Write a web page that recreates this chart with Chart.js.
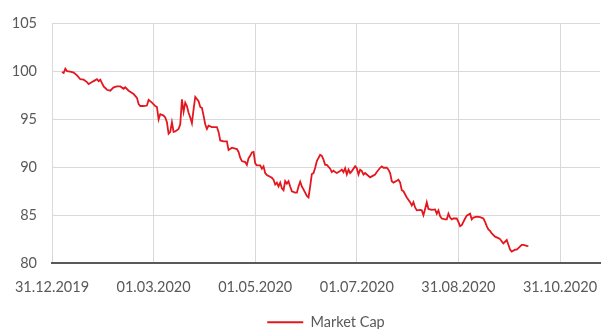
<!DOCTYPE html>
<html>
<head>
<meta charset="utf-8">
<script src="https://cdn.jsdelivr.net/npm/chart.js@4.4.0/dist/chart.umd.min.js"></script>
<style>
  html, body { margin: 0; padding: 0; background: #fff; }
  #wrap { width: 601px; height: 329px; }
</style>
</head>
<body>
<div id="wrap"><canvas id="capChart"></canvas></div>
<script>
// axis start date (first tick) and tick step in days
const startDate = '2019-12-31';
const tickStepDays = 61;
const yTicks = [80, 85, 90, 95, 100, 105];

const dates = [
  '2020-01-06','2020-01-07','2020-01-08','2020-01-09','2020-01-11','2020-01-13','2020-01-15','2020-01-17',
  '2020-01-19','2020-01-21','2020-01-22','2020-01-24','2020-01-25','2020-01-27','2020-01-28','2020-01-29',
  '2020-01-30','2020-01-31','2020-02-02','2020-02-04','2020-02-06','2020-02-08','2020-02-10','2020-02-12',
  '2020-02-13','2020-02-15','2020-02-18','2020-02-20','2020-02-21','2020-02-22','2020-02-24','2020-02-26',
  '2020-02-27','2020-02-29','2020-03-02','2020-03-03','2020-03-04','2020-03-05','2020-03-07','2020-03-08',
  '2020-03-09','2020-03-10','2020-03-11','2020-03-12','2020-03-13','2020-03-14','2020-03-16','2020-03-17',
  '2020-03-18','2020-03-19','2020-03-20','2020-03-21','2020-03-22','2020-03-23','2020-03-24','2020-03-25',
  '2020-03-26','2020-03-28','2020-03-29','2020-03-30','2020-03-31','2020-04-01','2020-04-02','2020-04-03',
  '2020-04-05','2020-04-08','2020-04-09','2020-04-10','2020-04-12','2020-04-14','2020-04-15','2020-04-17',
  '2020-04-19','2020-04-20','2020-04-21','2020-04-22','2020-04-23','2020-04-25','2020-04-26','2020-04-27',
  '2020-04-28','2020-04-29','2020-04-30','2020-05-01','2020-05-02','2020-05-04','2020-05-05','2020-05-06',
  '2020-05-07','2020-05-08','2020-05-11','2020-05-12','2020-05-13','2020-05-14','2020-05-15','2020-05-16',
  '2020-05-17','2020-05-18','2020-05-19','2020-05-20','2020-05-21','2020-05-22','2020-05-23','2020-05-25',
  '2020-05-26','2020-05-27','2020-05-28','2020-05-29','2020-05-31','2020-06-01','2020-06-02','2020-06-03',
  '2020-06-04','2020-06-05','2020-06-06','2020-06-07','2020-06-09','2020-06-10','2020-06-11','2020-06-12',
  '2020-06-13','2020-06-15','2020-06-16','2020-06-17','2020-06-18','2020-06-19','2020-06-21','2020-06-22',
  '2020-06-23','2020-06-24','2020-06-25','2020-06-26','2020-06-27','2020-06-28','2020-06-30','2020-07-01',
  '2020-07-02','2020-07-03','2020-07-04','2020-07-05','2020-07-06','2020-07-07','2020-07-09','2020-07-10',
  '2020-07-12','2020-07-13','2020-07-15','2020-07-16','2020-07-17','2020-07-19','2020-07-20','2020-07-21',
  '2020-07-22','2020-07-23','2020-07-25','2020-07-26','2020-07-27','2020-07-28','2020-07-29','2020-07-31',
  '2020-08-02','2020-08-03','2020-08-04','2020-08-05','2020-08-06','2020-08-08','2020-08-09','2020-08-10',
  '2020-08-11','2020-08-12','2020-08-13','2020-08-15','2020-08-17','2020-08-18','2020-08-19','2020-08-20',
  '2020-08-21','2020-08-23','2020-08-24','2020-08-25','2020-08-26','2020-08-27','2020-08-28','2020-08-30',
  '2020-08-31','2020-09-01','2020-09-02','2020-09-04','2020-09-05','2020-09-07','2020-09-08','2020-09-09',
  '2020-09-11','2020-09-13','2020-09-15','2020-09-16','2020-09-17','2020-09-18','2020-09-19','2020-09-20',
  '2020-09-22','2020-09-24','2020-09-25','2020-09-26','2020-09-27','2020-09-29','2020-09-30','2020-10-01',
  '2020-10-02','2020-10-04','2020-10-05','2020-10-06','2020-10-08','2020-10-09','2020-10-11','2020-10-12'
];

const marketCap = [
  99.95, 99.85, 100.3, 100.05, 100.0, 99.9, 99.6, 99.2,
  99.15, 98.9, 98.7, 98.9, 99.0, 99.2, 99.0, 99.15,
  98.8, 98.45, 98.1, 98.0, 98.35, 98.45, 98.45, 98.2,
  98.35, 98.0, 97.65, 97.25, 96.6, 96.4, 96.4, 96.45,
  97.05, 96.75, 96.4, 96.3, 95.0, 95.55, 95.4, 95.2,
  94.7, 93.5, 93.7, 94.7, 93.7, 93.75, 94.0, 94.5,
  97.1, 95.8, 96.75, 96.4, 95.7, 95.2, 94.6, 96.05,
  97.35, 96.9, 96.3, 96.2, 95.4, 94.5, 94.0, 94.35,
  94.2, 94.2, 93.7, 92.8, 92.7, 92.7, 91.8, 92.05,
  91.95, 91.9, 91.6, 91.0, 90.65, 90.55, 90.25, 90.95,
  91.2, 91.55, 91.6, 90.4, 90.2, 90.2, 89.85, 90.1,
  89.4, 89.2, 88.9, 88.7, 88.2, 88.4, 88.0, 88.4,
  87.8, 87.6, 88.55, 88.3, 88.55, 88.0, 87.5, 87.35,
  87.35, 88.0, 88.5, 88.0, 87.35, 87.0, 86.85, 88.0,
  89.3, 89.4, 89.95, 90.65, 91.3, 91.2, 90.8, 90.25,
  90.25, 89.85, 89.5, 89.65, 89.5, 89.4, 89.6, 89.75,
  89.5, 89.9, 89.25, 89.75, 89.4, 89.6, 90.1, 89.9,
  89.25, 89.75, 89.6, 89.25, 89.4, 89.25, 88.95, 89.05,
  89.25, 89.5, 89.95, 90.1, 89.95, 89.95, 89.75, 89.4,
  88.55, 88.4, 88.6, 88.7, 88.4, 87.6, 87.5, 86.85,
  86.35, 86.0, 86.35, 85.8, 85.5, 85.55, 85.5, 85.0,
  85.65, 86.35, 85.65, 85.55, 85.6, 85.15, 85.5, 84.9,
  84.65, 84.55, 84.55, 85.15, 84.75, 84.55, 84.65, 84.65,
  84.3, 83.85, 83.95, 84.65, 84.95, 85.15, 84.55, 84.75,
  84.85, 84.8, 84.65, 84.3, 83.85, 83.5, 83.35, 83.1,
  82.75, 82.6, 82.5, 82.25, 82.05, 82.4, 81.9, 81.4,
  81.2, 81.4, 81.4, 81.55, 81.9, 81.9, 81.8, 81.75
];

const DAY = 86400000;
function toUtc(s) {
  const p = s.split('-');
  return Date.UTC(+p[0], +p[1] - 1, +p[2]);
}
const base = toUtc(startDate);

// x values are days since the first axis tick
const points = dates.map((d, i) => ({ x: (toUtc(d) - base) / DAY, y: marketCap[i] }));

function fmtDay(v) {
  const dt = new Date(base + v * DAY);
  const dd = String(dt.getUTCDate()).padStart(2, '0');
  const mm = String(dt.getUTCMonth() + 1).padStart(2, '0');
  return dd + '.' + mm + '.' + dt.getUTCFullYear();
}

const labelFont = { family: 'Lato', size: 14.5 };
const textColor = '#595959';
const gridColor = '#d9d9d9';

const ctx = document.getElementById('capChart').getContext('2d');
new Chart(ctx, {
  type: 'line',
  data: {
    datasets: [{
      label: 'Market Cap',
      data: points,
      borderColor: '#e3181f',
      backgroundColor: '#e3181f',
      borderWidth: 1.8,
      pointRadius: 0,
      tension: 0
    }]
  },
  options: {
    responsive: true,
    maintainAspectRatio: false,
    animation: false,
    layout: { padding: { left: 0, right: 1, top: 19, bottom: 0 } },
    plugins: {
      legend: {
        display: true,
        position: 'bottom',
        fullSize: false, // centre the legend under the plot area, not the canvas
        maxHeight: 22,
        labels: {
          usePointStyle: true,
          pointStyle: 'line',
          pointStyleWidth: 36,
          color: textColor,
          font: labelFont,
          padding: 8
        }
      },
      tooltip: { enabled: false }
    },
    scales: {
      x: {
        type: 'linear',
        min: 0,
        max: 329,
        afterFit: s => { s.height = 44; s.paddingLeft = 0; s.paddingRight = 0; },
        grid: { color: gridColor, lineWidth: 1, drawTicks: false },
        border: { display: true, color: '#595959', width: 2 },
        ticks: {
          stepSize: tickStepDays,
          includeBounds: false,
          maxRotation: 0,
          autoSkip: false,
          color: textColor,
          font: labelFont,
          padding: 16,
          callback: v => fmtDay(v)
        }
      },
      y: {
        min: yTicks[0],
        max: yTicks[yTicks.length - 1],
        afterFit: s => { s.width = 52; },
        grid: { color: gridColor, lineWidth: 1, drawTicks: false },
        border: { display: false },
        ticks: {
          stepSize: 5,
          color: textColor,
          font: labelFont,
          padding: 15
        }
      }
    }
  }
});
</script>
</body>
</html>
